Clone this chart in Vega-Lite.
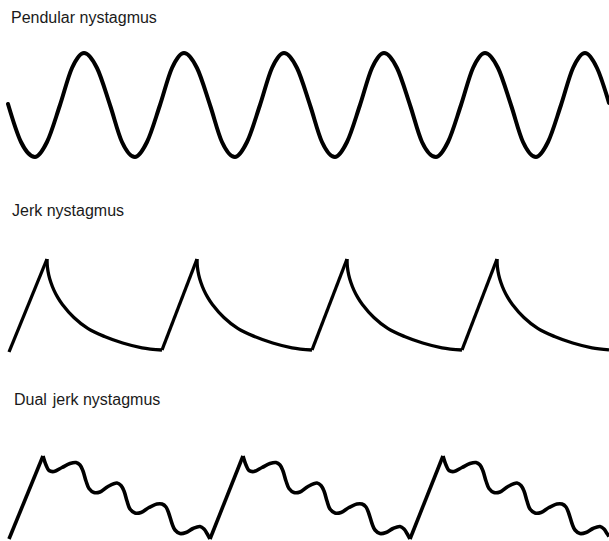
{
  "$schema": "https://vega.github.io/schema/vega-lite/v6.json",
  "width": 609,
  "height": 541,
  "autosize": {"type": "none"},
  "padding": 0,
  "background": "white",
  "config": {"view": {"stroke": null}},
  "data": {"values": [
    {"k":"pend","s":"p","x":8,"y":104},{"k":"pend","s":"p","x":21,"y":142},{"k":"pend","s":"p","x":35,"y":157},{"k":"pend","s":"p","x":47,"y":142},{"k":"pend","s":"p","x":60,"y":105},{"k":"pend","s":"p","x":72,"y":68},{"k":"pend","s":"p","x":84,"y":53},{"k":"pend","s":"p","x":97,"y":68},{"k":"pend","s":"p","x":110,"y":105},{"k":"pend","s":"p","x":122,"y":142},
    {"k":"pend","s":"p","x":135,"y":157},{"k":"pend","s":"p","x":147,"y":142},{"k":"pend","s":"p","x":160,"y":105},{"k":"pend","s":"p","x":172,"y":68},{"k":"pend","s":"p","x":184,"y":53},{"k":"pend","s":"p","x":197,"y":68},{"k":"pend","s":"p","x":210,"y":105},{"k":"pend","s":"p","x":222,"y":142},
    {"k":"pend","s":"p","x":235,"y":157},{"k":"pend","s":"p","x":247,"y":142},{"k":"pend","s":"p","x":260,"y":105},{"k":"pend","s":"p","x":272,"y":68},{"k":"pend","s":"p","x":284,"y":53},{"k":"pend","s":"p","x":297,"y":68},{"k":"pend","s":"p","x":310,"y":105},{"k":"pend","s":"p","x":322,"y":142},
    {"k":"pend","s":"p","x":335,"y":157},{"k":"pend","s":"p","x":347,"y":142},{"k":"pend","s":"p","x":360,"y":105},{"k":"pend","s":"p","x":372,"y":68},{"k":"pend","s":"p","x":384,"y":53},{"k":"pend","s":"p","x":397,"y":68},{"k":"pend","s":"p","x":410,"y":105},{"k":"pend","s":"p","x":422,"y":142},
    {"k":"pend","s":"p","x":436,"y":157},{"k":"pend","s":"p","x":448,"y":142},{"k":"pend","s":"p","x":461,"y":105},{"k":"pend","s":"p","x":473,"y":68},{"k":"pend","s":"p","x":485,"y":53},{"k":"pend","s":"p","x":498,"y":68},{"k":"pend","s":"p","x":511,"y":105},{"k":"pend","s":"p","x":523,"y":142},
    {"k":"pend","s":"p","x":536,"y":157},{"k":"pend","s":"p","x":548,"y":142},{"k":"pend","s":"p","x":561,"y":105},{"k":"pend","s":"p","x":573,"y":68},{"k":"pend","s":"p","x":585,"y":53},{"k":"pend","s":"p","x":597,"y":68},{"k":"pend","s":"p","x":609,"y":103},

    {"k":"jramp","s":"jr0","x":9,"y":352},{"k":"jramp","s":"jr0","x":47,"y":259},
    {"k":"jramp","s":"jr1","x":162,"y":350},{"k":"jramp","s":"jr1","x":197,"y":259},
    {"k":"jramp","s":"jr2","x":312,"y":350},{"k":"jramp","s":"jr2","x":347,"y":259},
    {"k":"jramp","s":"jr3","x":462,"y":350},{"k":"jramp","s":"jr3","x":497,"y":259},

    {"k":"jarc","s":"ja0","x":47,"y":259},{"k":"jarc","s":"ja0","x":47.4,"y":267},{"k":"jarc","s":"ja0","x":48.7,"y":274.8},{"k":"jarc","s":"ja0","x":50.9,"y":282.5},{"k":"jarc","s":"ja0","x":53.9,"y":290.1},{"k":"jarc","s":"ja0","x":57.7,"y":297.4},{"k":"jarc","s":"ja0","x":62.4,"y":304.5},{"k":"jarc","s":"ja0","x":73.9,"y":317.5},{"k":"jarc","s":"ja0","x":88.1,"y":328.7},{"k":"jarc","s":"ja0","x":104.5,"y":336.5},{"k":"jarc","s":"ja0","x":122.7,"y":343},{"k":"jarc","s":"ja0","x":142,"y":347.8},{"k":"jarc","s":"ja0","x":162,"y":350},
    {"k":"jarc","s":"ja1","x":197,"y":259},{"k":"jarc","s":"ja1","x":197.4,"y":267},{"k":"jarc","s":"ja1","x":198.7,"y":274.8},{"k":"jarc","s":"ja1","x":200.9,"y":282.5},{"k":"jarc","s":"ja1","x":203.9,"y":290.1},{"k":"jarc","s":"ja1","x":207.7,"y":297.4},{"k":"jarc","s":"ja1","x":212.4,"y":304.5},{"k":"jarc","s":"ja1","x":223.9,"y":317.5},{"k":"jarc","s":"ja1","x":238.1,"y":328.7},{"k":"jarc","s":"ja1","x":254.5,"y":336.5},{"k":"jarc","s":"ja1","x":272.7,"y":343},{"k":"jarc","s":"ja1","x":292,"y":347.8},{"k":"jarc","s":"ja1","x":312,"y":350},
    {"k":"jarc","s":"ja2","x":347,"y":259},{"k":"jarc","s":"ja2","x":347.4,"y":267},{"k":"jarc","s":"ja2","x":348.7,"y":274.8},{"k":"jarc","s":"ja2","x":350.9,"y":282.5},{"k":"jarc","s":"ja2","x":353.9,"y":290.1},{"k":"jarc","s":"ja2","x":357.7,"y":297.4},{"k":"jarc","s":"ja2","x":362.4,"y":304.5},{"k":"jarc","s":"ja2","x":373.9,"y":317.5},{"k":"jarc","s":"ja2","x":388.1,"y":328.7},{"k":"jarc","s":"ja2","x":404.5,"y":336.5},{"k":"jarc","s":"ja2","x":422.7,"y":343},{"k":"jarc","s":"ja2","x":442,"y":347.8},{"k":"jarc","s":"ja2","x":462,"y":350},
    {"k":"jarc","s":"ja3","x":497,"y":259},{"k":"jarc","s":"ja3","x":497.4,"y":267},{"k":"jarc","s":"ja3","x":498.7,"y":274.8},{"k":"jarc","s":"ja3","x":500.9,"y":282.5},{"k":"jarc","s":"ja3","x":503.9,"y":290.1},{"k":"jarc","s":"ja3","x":507.7,"y":297.4},{"k":"jarc","s":"ja3","x":512.4,"y":304.5},{"k":"jarc","s":"ja3","x":523.9,"y":317.5},{"k":"jarc","s":"ja3","x":538.1,"y":328.7},{"k":"jarc","s":"ja3","x":554.5,"y":336.5},{"k":"jarc","s":"ja3","x":572.7,"y":343},{"k":"jarc","s":"ja3","x":592,"y":347.8},{"k":"jarc","s":"ja3","x":609,"y":349.8},

    {"k":"dramp","s":"dr0","x":9,"y":539},{"k":"dramp","s":"dr0","x":43,"y":456},
    {"k":"dramp","s":"dr1","x":210,"y":539},{"k":"dramp","s":"dr1","x":243,"y":456},
    {"k":"dramp","s":"dr2","x":410,"y":539},{"k":"dramp","s":"dr2","x":443,"y":456},

    {"k":"darc","s":"da0","x":43,"y":456},{"k":"darc","s":"da0","x":46,"y":465},{"k":"darc","s":"da0","x":49,"y":470.5},{"k":"darc","s":"da0","x":54,"y":471.5},{"k":"darc","s":"da0","x":62,"y":467.5},{"k":"darc","s":"da0","x":70,"y":463.5},{"k":"darc","s":"da0","x":76,"y":462.5},{"k":"darc","s":"da0","x":80,"y":465},{"k":"darc","s":"da0","x":83,"y":471},{"k":"darc","s":"da0","x":86,"y":481},{"k":"darc","s":"da0","x":89,"y":488.5},{"k":"darc","s":"da0","x":94,"y":492.5},{"k":"darc","s":"da0","x":100,"y":492},{"k":"darc","s":"da0","x":108,"y":486.5},{"k":"darc","s":"da0","x":117,"y":483},{"k":"darc","s":"da0","x":121,"y":485.5},{"k":"darc","s":"da0","x":124,"y":491},{"k":"darc","s":"da0","x":127,"y":501},{"k":"darc","s":"da0","x":130,"y":509},{"k":"darc","s":"da0","x":135,"y":513},{"k":"darc","s":"da0","x":141,"y":512.5},{"k":"darc","s":"da0","x":149,"y":507.5},{"k":"darc","s":"da0","x":157,"y":504},{"k":"darc","s":"da0","x":162,"y":504},{"k":"darc","s":"da0","x":166,"y":507},{"k":"darc","s":"da0","x":169,"y":514},{"k":"darc","s":"da0","x":172,"y":523.5},{"k":"darc","s":"da0","x":175,"y":530},{"k":"darc","s":"da0","x":180,"y":533.5},{"k":"darc","s":"da0","x":186,"y":532.5},{"k":"darc","s":"da0","x":193,"y":528.5},{"k":"darc","s":"da0","x":200,"y":526.5},{"k":"darc","s":"da0","x":204,"y":529},{"k":"darc","s":"da0","x":207,"y":533.5},{"k":"darc","s":"da0","x":210,"y":539},

    {"k":"darc","s":"da1","x":243,"y":456},{"k":"darc","s":"da1","x":246,"y":465},{"k":"darc","s":"da1","x":249,"y":470.5},{"k":"darc","s":"da1","x":254,"y":471.5},{"k":"darc","s":"da1","x":262,"y":467.5},{"k":"darc","s":"da1","x":270,"y":463.5},{"k":"darc","s":"da1","x":276,"y":462.5},{"k":"darc","s":"da1","x":280,"y":465},{"k":"darc","s":"da1","x":283,"y":471},{"k":"darc","s":"da1","x":286,"y":481},{"k":"darc","s":"da1","x":289,"y":488.5},{"k":"darc","s":"da1","x":294,"y":492.5},{"k":"darc","s":"da1","x":300,"y":492},{"k":"darc","s":"da1","x":308,"y":486.5},{"k":"darc","s":"da1","x":317,"y":483},{"k":"darc","s":"da1","x":321,"y":485.5},{"k":"darc","s":"da1","x":324,"y":491},{"k":"darc","s":"da1","x":327,"y":501},{"k":"darc","s":"da1","x":330,"y":509},{"k":"darc","s":"da1","x":335,"y":513},{"k":"darc","s":"da1","x":341,"y":512.5},{"k":"darc","s":"da1","x":349,"y":507.5},{"k":"darc","s":"da1","x":357,"y":504},{"k":"darc","s":"da1","x":362,"y":504},{"k":"darc","s":"da1","x":366,"y":507},{"k":"darc","s":"da1","x":369,"y":514},{"k":"darc","s":"da1","x":372,"y":523.5},{"k":"darc","s":"da1","x":375,"y":530},{"k":"darc","s":"da1","x":380,"y":533.5},{"k":"darc","s":"da1","x":386,"y":532.5},{"k":"darc","s":"da1","x":393,"y":528.5},{"k":"darc","s":"da1","x":400,"y":526.5},{"k":"darc","s":"da1","x":404,"y":529},{"k":"darc","s":"da1","x":407,"y":533.5},{"k":"darc","s":"da1","x":410,"y":539},

    {"k":"darc","s":"da2","x":443,"y":456},{"k":"darc","s":"da2","x":446,"y":465},{"k":"darc","s":"da2","x":449,"y":470.5},{"k":"darc","s":"da2","x":454,"y":471.5},{"k":"darc","s":"da2","x":462,"y":467.5},{"k":"darc","s":"da2","x":470,"y":463.5},{"k":"darc","s":"da2","x":476,"y":462.5},{"k":"darc","s":"da2","x":480,"y":465},{"k":"darc","s":"da2","x":483,"y":471},{"k":"darc","s":"da2","x":486,"y":481},{"k":"darc","s":"da2","x":489,"y":488.5},{"k":"darc","s":"da2","x":494,"y":492.5},{"k":"darc","s":"da2","x":500,"y":492},{"k":"darc","s":"da2","x":508,"y":486.5},{"k":"darc","s":"da2","x":517,"y":483},{"k":"darc","s":"da2","x":521,"y":485.5},{"k":"darc","s":"da2","x":524,"y":491},{"k":"darc","s":"da2","x":527,"y":501},{"k":"darc","s":"da2","x":530,"y":509},{"k":"darc","s":"da2","x":535,"y":513},{"k":"darc","s":"da2","x":541,"y":512.5},{"k":"darc","s":"da2","x":549,"y":507.5},{"k":"darc","s":"da2","x":557,"y":504},{"k":"darc","s":"da2","x":562,"y":504},{"k":"darc","s":"da2","x":566,"y":507},{"k":"darc","s":"da2","x":569,"y":514},{"k":"darc","s":"da2","x":572,"y":523.5},{"k":"darc","s":"da2","x":575,"y":530},{"k":"darc","s":"da2","x":580,"y":533.5},{"k":"darc","s":"da2","x":586,"y":532.5},{"k":"darc","s":"da2","x":593,"y":528.5},{"k":"darc","s":"da2","x":600,"y":526.5},{"k":"darc","s":"da2","x":604,"y":529},{"k":"darc","s":"da2","x":607,"y":533.5},{"k":"darc","s":"da2","x":609,"y":536.5}
  ]},
  "encoding": {
    "x": {"field": "x", "type": "quantitative", "scale": {"domain": [0, 609], "nice": false, "zero": false}, "axis": null},
    "y": {"field": "y", "type": "quantitative", "scale": {"domain": [0, 541], "reverse": true, "nice": false, "zero": false}, "axis": null}
  },
  "layer": [
    {"transform": [{"filter": "datum.k == 'pend'"}], "mark": {"type": "line", "interpolate": "monotone", "color": "#000000", "strokeWidth": 4, "strokeCap": "round", "clip": true}, "encoding": {"detail": {"field": "s"}}},
    {"transform": [{"filter": "datum.k == 'jramp'"}], "mark": {"type": "line", "interpolate": "linear", "color": "#000000", "strokeWidth": 3.3, "strokeCap": "butt"}, "encoding": {"detail": {"field": "s"}}},
    {"transform": [{"filter": "datum.k == 'jarc'"}], "mark": {"type": "line", "interpolate": "catmull-rom", "color": "#000000", "strokeWidth": 3.3, "strokeCap": "butt", "clip": true}, "encoding": {"detail": {"field": "s"}}},
    {"transform": [{"filter": "datum.k == 'dramp'"}], "mark": {"type": "line", "interpolate": "linear", "color": "#000000", "strokeWidth": 3.6, "strokeCap": "butt"}, "encoding": {"detail": {"field": "s"}}},
    {"transform": [{"filter": "datum.k == 'darc'"}], "mark": {"type": "line", "interpolate": "catmull-rom", "color": "#000000", "strokeWidth": 3.6, "strokeCap": "butt", "clip": true}, "encoding": {"detail": {"field": "s"}}},
    {
      "data": {"values": [
        {"label": "Pendular nystagmus", "x": 11, "y": 23},
        {"label": "Jerk nystagmus", "x": 12, "y": 216},
        {"label": "Dual \u200ajerk nystagmus", "x": 14, "y": 405}
      ]},
      "mark": {"type": "text", "align": "left", "baseline": "alphabetic", "font": "Liberation Sans", "fontSize": 16, "color": "#1a1a1a"},
      "encoding": {"text": {"field": "label"}}
    }
  ]
}
